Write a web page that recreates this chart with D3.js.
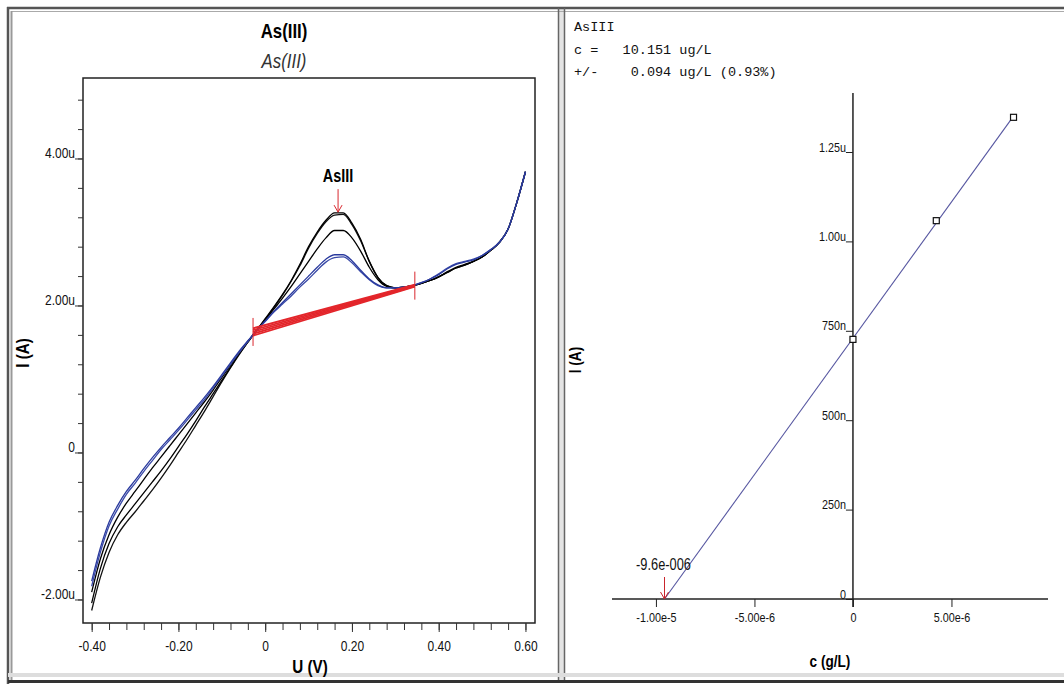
<!DOCTYPE html>
<html><head><meta charset="utf-8">
<script src="https://cdn.jsdelivr.net/npm/d3@7"></script>
<style>
html,body{margin:0;padding:0;background:#fff;}
svg{display:block;}
.nar{font-family:"Liberation Sans Narrow","Arial Narrow","Liberation Sans",Arial,sans-serif;}
.mono{font-family:"Liberation Mono","Courier New",monospace;}
</style></head>
<body>
<svg id="chart" width="1064" height="684"></svg>
<script>
// ---------- Voltammogram data (U in V, I in µA) ----------
const voltage = [-0.40,-0.38,-0.36,-0.34,-0.32,-0.30,-0.28,-0.26,-0.24,-0.22,-0.20,-0.18,-0.16,-0.14,-0.12,-0.10,-0.08,-0.06,-0.04,-0.02,
  0.00,0.02,0.04,0.06,0.08,0.10,0.12,0.14,0.16,0.18,0.20,0.22,0.24,0.26,0.28,0.30,0.32,0.34,0.36,0.38,0.40,0.42,0.44,0.46,0.48,0.50,0.52,0.54,0.56,0.58,0.60];
const sampleScan1 = [-1.75,-1.30,-0.95,-0.72,-0.53,-0.38,-0.22,-0.07,0.07,0.20,0.33,0.47,0.61,0.75,0.90,1.06,1.22,1.38,1.52,1.66,
  1.79,1.92,2.04,2.16,2.28,2.40,2.52,2.63,2.69,2.69,2.61,2.48,2.36,2.28,2.24,2.24,2.25,2.27,2.31,2.36,2.42,2.50,2.56,2.59,2.62,2.68,2.76,2.86,3.04,3.40,3.82];
const sampleScan2 = [-1.82,-1.36,-1.00,-0.77,-0.57,-0.42,-0.26,-0.11,0.04,0.17,0.30,0.44,0.58,0.72,0.88,1.04,1.20,1.36,1.51,1.65,
  1.78,1.91,2.02,2.13,2.25,2.36,2.48,2.59,2.65,2.66,2.58,2.46,2.35,2.27,2.24,2.24,2.25,2.27,2.31,2.36,2.43,2.51,2.57,2.60,2.63,2.68,2.76,2.86,3.04,3.40,3.82];
const addition1Scan = [-1.90,-1.45,-1.12,-0.88,-0.69,-0.53,-0.37,-0.21,-0.06,0.09,0.24,0.39,0.54,0.69,0.85,1.02,1.19,1.36,1.51,1.66,
  1.80,1.95,2.10,2.26,2.43,2.60,2.77,2.92,3.02,3.02,2.92,2.74,2.52,2.35,2.26,2.24,2.25,2.27,2.30,2.34,2.39,2.46,2.52,2.56,2.60,2.66,2.75,2.86,3.04,3.40,3.82];
const addition2Scan1 = [-2.05,-1.58,-1.24,-1.01,-0.85,-0.70,-0.55,-0.40,-0.25,-0.09,0.08,0.25,0.43,0.62,0.80,0.98,1.16,1.34,1.50,1.66,
  1.82,1.98,2.15,2.34,2.56,2.80,3.00,3.16,3.26,3.26,3.12,2.90,2.60,2.38,2.27,2.24,2.25,2.27,2.30,2.34,2.39,2.45,2.51,2.55,2.60,2.66,2.75,2.86,3.04,3.40,3.82];
const addition2Scan2 = [-2.15,-1.70,-1.36,-1.12,-0.95,-0.81,-0.66,-0.51,-0.35,-0.18,0.00,0.18,0.37,0.56,0.76,0.96,1.15,1.33,1.50,1.66,
  1.81,1.97,2.14,2.33,2.54,2.78,2.98,3.14,3.23,3.24,3.10,2.88,2.60,2.38,2.27,2.24,2.25,2.27,2.30,2.34,2.39,2.45,2.51,2.55,2.60,2.66,2.75,2.86,3.04,3.40,3.82];

const baselineU = [-0.028, 0.345];
const baselineStartI = [1.59, 1.615, 1.64, 1.665, 1.69];
const baselineEndI = [2.255, 2.262, 2.27, 2.278, 2.285];
const peakName = "AsIII";
const peakU = 0.168, peakI = 3.27;

const uTicks = [-0.40,-0.20,0,0.20,0.40,0.60];
const uTickLabels = ["-0.40","-0.20","0","0.20","0.40","0.60"];
const iTicks = [-2,0,2,4];
const iTickLabels = ["-2.00u","0","2.00u","4.00u"];

// ---------- Standard addition (calibration) data ----------
const additionConc = [0, 4.23e-6, 8.15e-6];        // g/L
const additionCurrent = [726e-9, 1058e-9, 1347e-9]; // A
const cTicks = [-1e-5, -5e-6, 0, 5e-6];
const cTickLabels = ["-1.00e-5","-5.00e-6","0","5.00e-6"];
const calTicks = [0, 250e-9, 500e-9, 750e-9, 1e-6, 1.25e-6];
const calTickLabels = ["0","250n","500n","750n","1.00u","1.25u"];
const resultLines = ["AsIII", "c =   10.151 ug/L", "+/-    0.094 ug/L (0.93%)"];
const interceptLabel = "-9.6e-006";

const svg = d3.select("#chart");

// ---------- Frame ----------
svg.append("rect").attr("x",558).attr("y",8).attr("width",6).attr("height",672).attr("fill","#e4e4e4");
svg.append("line").attr("x1",7).attr("x2",1064).attr("y1",8).attr("y2",8).attr("stroke","#555").attr("stroke-width",2.5);
svg.append("line").attr("x1",12).attr("x2",1064).attr("y1",11.5).attr("y2",11.5).attr("stroke","#aaa").attr("stroke-width",1);
svg.append("line").attr("x1",8).attr("x2",8).attr("y1",7).attr("y2",684).attr("stroke","#555").attr("stroke-width",2.5);
svg.append("line").attr("x1",11.5).attr("x2",11.5).attr("y1",11).attr("y2",680).attr("stroke","#999").attr("stroke-width",2);
svg.append("line").attr("x1",558.5).attr("x2",558.5).attr("y1",8).attr("y2",680).attr("stroke","#666").attr("stroke-width",1.5);
svg.append("line").attr("x1",564.5).attr("x2",564.5).attr("y1",8).attr("y2",680).attr("stroke","#666").attr("stroke-width",1.5);
svg.append("line").attr("x1",8).attr("x2",1064).attr("y1",675).attr("y2",675).attr("stroke","#ddd").attr("stroke-width",4);
svg.append("line").attr("x1",8).attr("x2",1064).attr("y1",681.5).attr("y2",681.5).attr("stroke","#333").attr("stroke-width",3);

// ---------- Left: voltammogram ----------
const L = {left:83, right:535, top:78, bottom:623};
const xU = d3.scaleLinear().domain([-0.42, 0.622]).range([L.left, L.right]);
const yI = d3.scaleLinear().domain([-2.32, 5.095]).range([L.bottom, L.top]);

svg.append("text").attr("class","nar").attr("x",284).attr("y",38).attr("text-anchor","middle")
  .attr("font-size",21).attr("font-weight","bold").text("As(III)");
svg.append("text").attr("class","nar").attr("x",284).attr("y",68).attr("text-anchor","middle")
  .attr("font-size",21).attr("font-style","italic").attr("fill","#333").text("As(III)");

svg.append("rect").attr("x",L.left).attr("y",L.top).attr("width",L.right-L.left).attr("height",L.bottom-L.top)
  .attr("fill","none").attr("stroke","#222").attr("stroke-width",1.5);

// y axis
const yAxisL = svg.append("g").attr("transform",`translate(${L.left},0)`);
yAxisL.call(d3.axisLeft(yI).tickValues(d3.range(-2,5.0,0.4)).tickSize(5).tickFormat(""))
  .call(g=>g.select(".domain").remove()).call(g=>g.selectAll("line").attr("stroke","#333"));
const yMaj = svg.append("g").attr("transform",`translate(${L.left},0)`);
yMaj.call(d3.axisLeft(yI).tickValues(iTicks).tickSize(8).tickFormat((d,i)=>iTickLabels[i]))
  .call(g=>g.select(".domain").remove());
yMaj.selectAll("line").attr("stroke","#333");
yMaj.selectAll("text").attr("class","nar").attr("font-size",15).attr("font-family",null).attr("x",-8).attr("dy","-1").attr("fill","#111");

// x axis
const xAxisL = svg.append("g").attr("transform",`translate(0,${L.bottom})`);
xAxisL.call(d3.axisBottom(xU).tickValues(d3.range(-0.40,0.6001,0.04)).tickSize(7).tickFormat(""))
  .call(g=>g.select(".domain").remove()).call(g=>g.selectAll("line").attr("stroke","#333"));
const xMaj = svg.append("g").attr("transform",`translate(0,${L.bottom})`);
xMaj.call(d3.axisBottom(xU).tickValues(uTicks).tickSize(9).tickPadding(8).tickFormat((d,i)=>uTickLabels[i]))
  .call(g=>g.select(".domain").remove());
xMaj.selectAll("line").attr("stroke","#333");
xMaj.selectAll("text").attr("class","nar").attr("font-size",15).attr("font-family",null).attr("fill","#111");

svg.append("text").attr("class","nar").attr("x",310).attr("y",673).attr("text-anchor","middle")
  .attr("font-size",19).attr("font-weight","bold").text("U (V)");
svg.append("text").attr("class","nar").attr("transform","translate(29,353) rotate(-90)").attr("text-anchor","middle")
  .attr("font-size",19).attr("font-weight","bold").text("I (A)");

const clip = svg.append("clipPath").attr("id","clipL").append("rect")
  .attr("x",L.left).attr("y",L.top).attr("width",L.right-L.left).attr("height",L.bottom-L.top);
const plotL = svg.append("g").attr("clip-path","url(#clipL)");
const lineGen = d3.line().x(d=>xU(d[0])).y(d=>yI(d[1])).curve(d3.curveMonotoneX);
const scans = [
  {v:addition2Scan2, c:"#111"},
  {v:addition2Scan1, c:"#000"},
  {v:addition1Scan, c:"#000"},
  {v:sampleScan2, c:"#3a4aa8"},
  {v:sampleScan1, c:"#2a3a9e"}
];
scans.forEach(s=>{
  plotL.append("path").datum(voltage.map((u,i)=>[u,s.v[i]]))
    .attr("d",lineGen).attr("fill","none").attr("stroke",s.c).attr("stroke-width",1.3);
});
// baselines
baselineStartI.forEach((s,i)=>{
  plotL.append("line").attr("x1",xU(baselineU[0])).attr("y1",yI(s))
    .attr("x2",xU(baselineU[1])).attr("y2",yI(baselineEndI[i]))
    .attr("stroke","#e3262b").attr("stroke-width",1.8);
});
// baseline markers
const midStart = baselineStartI[2], midEnd = baselineEndI[2];
[[baselineU[0],midStart],[baselineU[1],midEnd]].forEach(p=>{
  plotL.append("line").attr("x1",xU(p[0])).attr("x2",xU(p[0]))
    .attr("y1",yI(p[1])-14).attr("y2",yI(p[1])+14).attr("stroke","#d9272e").attr("stroke-width",1);
});
// peak arrow
const px = xU(peakU), py = yI(peakI);
plotL.append("line").attr("x1",px).attr("x2",px).attr("y1",py-23).attr("y2",py).attr("stroke","#d9272e").attr("stroke-width",1);
plotL.append("path").attr("d",`M${px-4},${py-7}L${px},${py}L${px+4},${py-7}`).attr("fill","none").attr("stroke","#d9272e").attr("stroke-width",1);
svg.append("text").attr("class","nar").attr("x",px).attr("y",py-30).attr("text-anchor","middle")
  .attr("font-size",18).attr("font-weight","bold").text(peakName);

// ---------- Right: standard addition plot ----------
resultLines.forEach((t,i)=>{
  svg.append("text").attr("class","mono").attr("x",574).attr("y",31+i*22.5).attr("font-size",13.5)
    .attr("xml:space","preserve").style("white-space","pre").attr("fill","#111").text(t);
});

const R = {left:612, right:1048, top:93, bottom:599};
const xC = d3.scaleLinear().domain([-1.223e-5, 9.9e-6]).range([R.left, R.right]);
const yC = d3.scaleLinear().domain([0, 1.415e-6]).range([R.bottom, R.top]);

const xAxR = svg.append("g").attr("transform",`translate(0,${yC(0)})`);
xAxR.call(d3.axisBottom(xC).tickValues(cTicks).tickSize(8).tickPadding(5).tickFormat((d,i)=>cTickLabels[i]));
xAxR.select(".domain").attr("d",`M${R.left},0H${R.right}`).attr("stroke","#222").attr("stroke-width",1.5);
xAxR.selectAll("line").attr("stroke","#222");
xAxR.selectAll("text").attr("class","nar").attr("font-family",null).attr("font-size",13.5).attr("fill","#111");

const yAxR = svg.append("g").attr("transform",`translate(${xC(0)},0)`);
yAxR.call(d3.axisLeft(yC).tickValues(calTicks).tickSize(7).tickFormat((d,i)=>calTickLabels[i]));
yAxR.select(".domain").attr("d",`M0,${R.top}V${R.bottom+8}`).attr("stroke","#222").attr("stroke-width",1.5);
yAxR.selectAll("line").attr("stroke","#222");
yAxR.selectAll("text").attr("class","nar").attr("font-family",null).attr("font-size",13.5).attr("x",-7).attr("dy","-1").attr("fill","#111");

svg.append("text").attr("class","nar").attr("x",830).attr("y",667).attr("text-anchor","middle")
  .attr("font-size",17).attr("font-weight","bold").text("c (g/L)");
svg.append("text").attr("class","nar").attr("transform","translate(581,360) rotate(-90)").attr("text-anchor","middle")
  .attr("font-size",17).attr("font-weight","bold").text("I (A)");

// least-squares regression through additions
const mx = d3.mean(additionConc), my = d3.mean(additionCurrent);
let sxy=0, sxx=0;
additionConc.forEach((c,i)=>{ sxy+=(c-mx)*(additionCurrent[i]-my); sxx+=(c-mx)*(c-mx); });
const slope = sxy/sxx, icpt = my - slope*mx;
const xInt = -icpt/slope;
const cMax = d3.max(additionConc);
svg.append("line").attr("x1",xC(xInt)).attr("y1",yC(0)).attr("x2",xC(cMax)).attr("y2",yC(icpt+slope*cMax))
  .attr("stroke","#5656a0").attr("stroke-width",1.1);
svg.selectAll("rect.pt").data(additionConc).enter().append("rect").attr("class","pt")
  .attr("x",(d)=>xC(d)-3).attr("y",(d,i)=>yC(additionCurrent[i])-3).attr("width",6).attr("height",6)
  .attr("fill","#fff").attr("stroke","#111").attr("stroke-width",1.2);

const ix = xC(xInt), iy = yC(0);
svg.append("line").attr("x1",ix).attr("x2",ix).attr("y1",iy-22).attr("y2",iy).attr("stroke","#c9252c").attr("stroke-width",1);
svg.append("path").attr("d",`M${ix-4},${iy-7}L${ix},${iy}L${ix+4},${iy-7}`).attr("fill","none").attr("stroke","#c9252c").attr("stroke-width",1);
svg.append("text").attr("class","nar").attr("x",ix-1).attr("y",iy-29).attr("text-anchor","middle")
  .attr("font-size",16).attr("fill","#111").text(interceptLabel);

// condense the sans text to mimic the narrow typeface of the original
svg.selectAll("text.nar").each(function(){
  const w = this.getComputedTextLength();
  if (w > 0) d3.select(this).attr("textLength", w*0.8).attr("lengthAdjust","spacingAndGlyphs");
});
</script>
</body></html>
